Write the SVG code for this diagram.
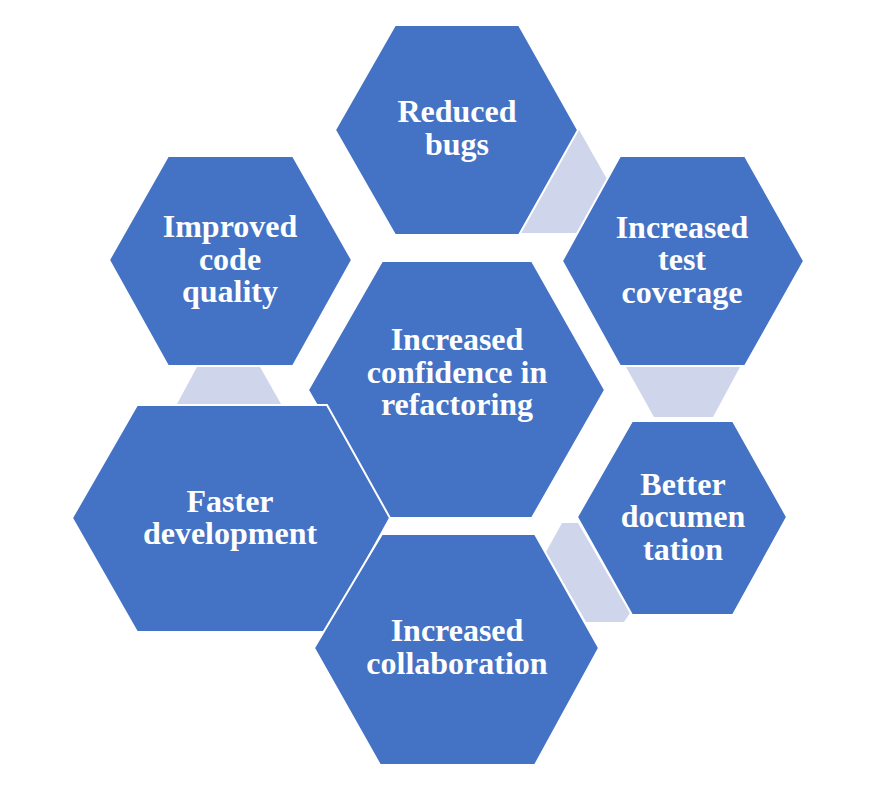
<svg xmlns="http://www.w3.org/2000/svg" width="871" height="810" viewBox="0 0 871 810">
<style>
.hex{fill:#4472C4;stroke:#FFFFFF;stroke-width:2;stroke-linejoin:miter}
.con{fill:#CFD5EA;stroke:none}
.t{font-family:"Liberation Serif","Times New Roman",serif;font-weight:bold;font-size:32px;fill:#FFFFFF;text-anchor:middle}
</style>
<rect width="871" height="810" fill="#FFFFFF"/>
<g id="connectors">
<polygon class="con" points="578,128 608,181 577,233 519,233"/>
<polygon class="con" points="197,367 260,367 281,404 177,404"/>
<polygon class="con" points="626,367 740,367 713,417 654,417"/>
<polygon class="con" points="562,523 578,523 630,613 624,622 586,622 546,552"/>
</g>
<g id="n-central">
<polygon class="hex" points="382,261 532,261 605,390 532,518 382,518 308,390"/>
<text class="t" x="457" y="350">Increased</text>
<text class="t" x="457" y="383">confidence in</text>
<text class="t" x="457" y="415">refactoring</text>
</g>
<g id="n-reduced-bugs">
<polygon class="hex" points="395,25 519,25 578,130 519,235 395,235 335,130"/>
<text class="t" x="457" y="122">Reduced</text>
<text class="t" x="457" y="155">bugs</text>
</g>
<g id="n-test-coverage">
<polygon class="hex" points="620,156 745,156 804,261 745,366 620,366 562,261"/>
<text class="t" x="682" y="238">Increased</text>
<text class="t" x="682" y="270">test</text>
<text class="t" x="682" y="303">coverage</text>
</g>
<g id="n-documentation">
<polygon class="hex" points="632,421 733,421 787,517 733,615 632,615 577,517"/>
<text class="t" x="683" y="495">Better</text>
<text class="t" x="683" y="527">documen</text>
<text class="t" x="683" y="560">tation</text>
</g>
<g id="n-code-quality">
<polygon class="hex" points="168,156 293,156 352,260 293,366 168,366 109,260"/>
<text class="t" x="230" y="237">Improved</text>
<text class="t" x="230" y="270">code</text>
<text class="t" x="230" y="302">quality</text>
</g>
<g id="n-faster-development">
<polygon class="hex" points="137,405 327,405 390,518 327,632 137,632 72,518"/>
<text class="t" x="230" y="512">Faster</text>
<text class="t" x="230" y="544">development</text>
</g>
<g id="n-collaboration">
<polygon class="hex" points="382,534 535,534 599,648 535,765 380,765 314,648"/>
<text class="t" x="457" y="641">Increased</text>
<text class="t" x="457" y="674">collaboration</text>
</g>
</svg>
